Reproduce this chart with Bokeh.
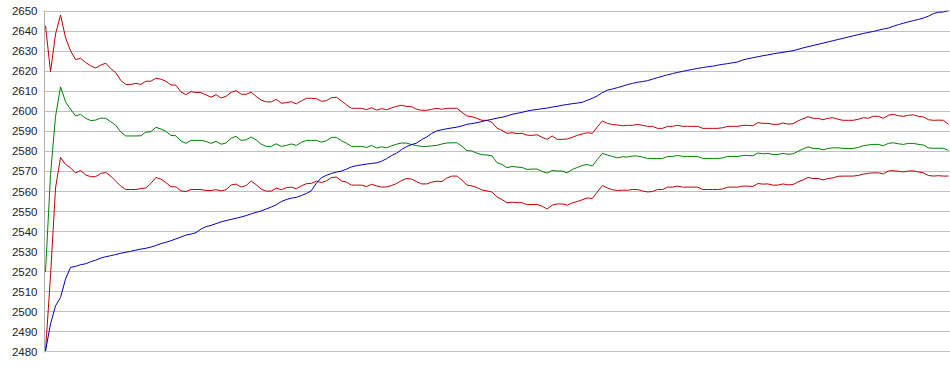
from bokeh.plotting import figure
from bokeh.models import Range1d, SingleIntervalTicker, ColumnDataSource
from bokeh.embed import file_html
from bokeh.resources import INLINE

# ---- data ----
upper = [2642.7, 2619.7, 2638.5, 2648.0, 2636.6, 2630.1, 2625.8, 2626.4, 2624.3, 2622.7,
         2621.6, 2623.0, 2624.0, 2621.3, 2619.3, 2615.4, 2613.4, 2613.4, 2613.9, 2613.4,
         2615.0, 2615.0, 2616.5, 2616.0, 2615.0, 2613.2, 2613.0, 2609.7, 2608.3, 2609.8,
         2609.4, 2609.3, 2608.2, 2607.0, 2608.3, 2606.6, 2607.5, 2609.4, 2610.3, 2608.5,
         2608.5, 2609.5, 2607.4, 2605.6, 2604.7, 2604.7, 2606.0, 2604.0, 2604.3, 2604.8,
         2603.7, 2605.2, 2606.5, 2606.5, 2606.3, 2605.0, 2605.3, 2606.8, 2607.0, 2605.2,
         2603.2, 2601.5, 2601.5, 2601.5, 2600.8, 2601.8, 2600.6, 2601.3, 2600.8, 2601.7,
         2602.5, 2603.0, 2602.4, 2602.3, 2601.0, 2600.5, 2600.5, 2601.0, 2601.5, 2601.0,
         2601.5, 2601.5, 2601.5, 2599.5, 2597.7, 2597.3, 2596.5, 2595.5, 2595.5, 2594.5,
         2591.6, 2590.5, 2589.0, 2589.3, 2588.9, 2589.0, 2588.1, 2588.0, 2588.3, 2587.0,
         2586.0, 2587.7, 2586.0, 2586.0, 2586.2, 2587.0, 2588.0, 2588.7, 2589.3, 2589.0,
         2592.2, 2595.2, 2594.0, 2593.4, 2593.2, 2592.8, 2593.0, 2593.0, 2593.5, 2593.0,
         2592.5, 2592.5, 2591.5, 2591.5, 2592.5, 2592.5, 2593.0, 2592.5, 2592.5, 2592.5,
         2592.5, 2591.5, 2591.5, 2591.5, 2591.5, 2591.8, 2592.5, 2592.5, 2592.5, 2593.0,
         2593.0, 2592.8, 2594.3, 2594.0, 2594.0, 2593.5, 2593.5, 2594.2, 2593.6, 2593.8,
         2595.2, 2596.3, 2597.3, 2596.5, 2596.5, 2595.8, 2596.5, 2596.8, 2596.0, 2595.5,
         2595.5, 2595.5, 2596.0, 2596.8, 2596.5, 2597.5, 2597.5, 2596.5, 2598.0, 2598.5,
         2597.8, 2597.5, 2598.0, 2598.2, 2597.5, 2597.2, 2595.8, 2595.5, 2595.6, 2595.5,
         2593.5]

middle = [2519.8, 2568.5, 2597.5, 2612.2, 2604.7, 2601.0, 2597.7, 2598.5, 2596.5, 2595.4,
          2595.6, 2596.6, 2596.5, 2594.8, 2593.0, 2589.7, 2587.7, 2587.7, 2587.7, 2587.8,
          2589.6, 2589.8, 2592.0, 2591.2, 2590.0, 2588.0, 2587.8, 2585.2, 2584.0, 2585.5,
          2585.5, 2585.5, 2585.0, 2584.0, 2585.0, 2583.6, 2584.2, 2586.6, 2587.5, 2585.5,
          2585.8, 2587.2, 2585.7, 2583.6, 2582.5, 2582.5, 2583.8, 2582.5, 2583.0, 2583.7,
          2583.0, 2584.5, 2585.5, 2585.5, 2585.5, 2584.6, 2585.3, 2587.0, 2587.0, 2585.3,
          2584.1, 2582.5, 2582.5, 2582.5, 2582.0, 2583.0, 2581.7, 2582.3, 2581.8, 2582.8,
          2583.6, 2584.2, 2584.1, 2583.4, 2582.9, 2582.5, 2582.5, 2582.8, 2583.0, 2583.7,
          2584.2, 2584.3, 2584.3, 2582.6, 2580.4, 2580.2, 2579.1, 2578.4, 2578.2, 2577.8,
          2574.4, 2573.5, 2571.9, 2572.5, 2572.2, 2572.0, 2571.0, 2571.2, 2571.2, 2570.0,
          2569.2, 2570.5, 2570.2, 2570.2, 2569.3, 2571.0, 2572.0, 2573.0, 2573.5, 2572.7,
          2576.0, 2579.0, 2578.2, 2577.5, 2576.8, 2577.3, 2577.2, 2577.7, 2577.7, 2577.2,
          2576.5, 2576.5, 2576.5, 2576.5, 2577.5, 2577.5, 2578.0, 2577.5, 2577.5, 2577.5,
          2577.5, 2576.5, 2576.5, 2576.5, 2576.5, 2576.8, 2577.5, 2577.5, 2577.5, 2578.0,
          2578.0, 2577.8, 2579.2, 2578.8, 2579.0, 2578.5, 2578.5, 2579.0, 2578.6, 2578.8,
          2580.0, 2581.2, 2582.3, 2581.5, 2581.5, 2580.8, 2581.5, 2581.8, 2581.8, 2581.5,
          2581.5, 2581.5, 2582.0, 2582.8, 2583.2, 2583.5, 2583.5, 2582.8, 2584.0, 2584.3,
          2583.8, 2583.5, 2584.0, 2584.0, 2583.5, 2583.2, 2581.8, 2581.5, 2581.6, 2581.5,
          2580.5]

lower = [2480.5, 2518.0, 2561.8, 2577.0, 2573.5, 2571.8, 2569.3, 2570.5, 2568.3, 2567.4,
         2567.4, 2569.0, 2569.5, 2567.7, 2565.2, 2562.7, 2561.0, 2561.0, 2561.0, 2561.5,
         2561.8, 2564.0, 2567.0, 2566.2, 2564.5, 2562.4, 2562.3, 2560.3, 2560.0, 2561.0,
         2561.0, 2561.0, 2560.5, 2560.5, 2560.9, 2560.3, 2560.9, 2563.3, 2563.7, 2562.2,
         2563.0, 2565.2, 2563.4, 2561.2, 2560.2, 2560.2, 2561.7, 2560.9, 2561.9, 2562.2,
         2561.4, 2562.8, 2563.9, 2564.1, 2565.2, 2564.5, 2565.3, 2567.0, 2567.2, 2565.3,
         2564.7, 2563.2, 2563.2, 2563.2, 2562.5, 2563.6, 2562.8, 2562.2, 2562.3, 2563.0,
         2564.0, 2565.5, 2566.5, 2566.2, 2564.9, 2563.8, 2563.8, 2564.7, 2565.1, 2565.0,
         2566.7, 2567.7, 2567.7, 2565.7, 2563.2, 2562.8, 2562.0, 2560.8, 2560.3, 2559.8,
         2557.3, 2556.0, 2554.4, 2554.7, 2554.4, 2554.4, 2553.5, 2553.5, 2553.6, 2552.7,
         2551.3, 2553.2, 2553.8, 2553.8, 2553.2, 2554.3, 2555.0, 2555.9, 2556.8, 2556.5,
         2559.8, 2563.0, 2561.8, 2560.9, 2560.5, 2560.7, 2560.6, 2561.0, 2561.0, 2560.3,
         2559.8, 2560.0, 2561.0, 2561.0, 2562.2, 2562.2, 2562.7, 2562.2, 2562.2, 2562.2,
         2562.2, 2561.0, 2561.0, 2561.0, 2561.0, 2561.3, 2562.2, 2562.2, 2562.2, 2562.7,
         2562.7, 2562.5, 2564.0, 2563.7, 2563.8, 2563.2, 2563.2, 2563.8, 2563.3, 2563.5,
         2564.8, 2565.8, 2567.0, 2566.5, 2566.5, 2565.8, 2566.5, 2566.8, 2567.6, 2567.7,
         2567.7, 2567.7, 2568.0, 2568.7, 2569.1, 2569.3, 2569.3, 2568.8, 2570.2, 2570.4,
         2570.1, 2569.8, 2570.2, 2570.3, 2569.8, 2569.3, 2568.0, 2567.7, 2567.9, 2567.7,
         2567.7]

trend = [2480.5, 2494.0, 2503.0, 2507.2, 2516.5, 2522.2, 2522.7, 2523.5, 2524.0, 2525.0,
         2525.8, 2526.8, 2527.5, 2528.0, 2528.6, 2529.2, 2529.7, 2530.2, 2530.8, 2531.3,
         2531.7, 2532.3, 2533.1, 2534.0, 2534.7, 2535.5, 2536.4, 2537.3, 2538.3, 2538.8,
         2539.5, 2541.3, 2542.5, 2543.1, 2544.0, 2544.9, 2545.5, 2546.1, 2546.7, 2547.3,
         2548.0, 2548.9, 2549.6, 2550.3, 2551.3, 2552.3, 2553.4, 2555.0, 2556.0, 2556.7,
         2557.1, 2558.0, 2559.0, 2560.4, 2564.2, 2566.9, 2568.1, 2569.0, 2569.7, 2570.2,
         2571.2, 2572.3, 2572.9, 2573.3, 2573.7, 2574.0, 2574.3, 2575.1, 2576.4, 2578.0,
         2579.1, 2581.0, 2582.4, 2583.4, 2584.2, 2585.9, 2587.2, 2589.0, 2590.2, 2590.8,
         2591.3, 2591.7, 2592.1, 2592.7, 2593.5, 2593.9, 2594.3, 2594.9, 2595.5, 2596.0,
         2596.6, 2597.0, 2597.7, 2598.5, 2599.0, 2599.5, 2600.1, 2600.6, 2600.9, 2601.3,
         2601.6, 2602.1, 2602.5, 2603.0, 2603.4, 2603.8, 2604.1, 2604.5, 2605.5, 2606.5,
         2607.7, 2609.3, 2610.5, 2611.1, 2611.8, 2612.5, 2613.3, 2613.9, 2614.5, 2614.8,
         2615.3, 2616.0, 2616.8, 2617.5, 2618.2, 2618.8, 2619.4, 2619.9, 2620.4, 2620.9,
         2621.4, 2621.8, 2622.2, 2622.5, 2623.0, 2623.4, 2623.8, 2624.2, 2624.6, 2625.6,
         2626.2, 2626.7, 2627.2, 2627.7, 2628.1, 2628.6, 2629.0, 2629.4, 2629.8, 2630.2,
         2630.9, 2631.6, 2632.2, 2632.8, 2633.4, 2634.0, 2634.6, 2635.2, 2635.8, 2636.4,
         2637.0, 2637.6, 2638.2, 2638.8, 2639.3, 2639.8, 2640.4, 2641.0, 2641.5, 2642.4,
         2643.2, 2643.9, 2644.6, 2645.2, 2645.8, 2646.5, 2647.4, 2648.7, 2649.4, 2649.5,
         2650.3]

x = list(range(len(trend)))

y_min, y_max, y_step = 2480, 2650, 10

src = ColumnDataSource(dict(x=x, upper=upper, middle=middle, lower=lower, trend=trend))

p = figure(width=950, height=375, output_backend="svg", toolbar_location=None,
           x_axis_location=None,
           x_range=Range1d(-0.2, len(trend) - 1 + 0.4),
           y_range=Range1d(y_min - 0.25, y_max + 0.25),
           min_border_left=44, min_border_right=0, min_border_top=10, min_border_bottom=23)
p.outline_line_color = None
p.background_fill_color = "white"
p.border_fill_color = "white"
p.xgrid.grid_line_color = None
p.xgrid.visible = False

ticker = SingleIntervalTicker(interval=y_step)
p.yaxis.ticker = ticker
p.ygrid.ticker = ticker
p.ygrid.grid_line_color = "#c0c0c0"
p.ygrid.grid_line_width = 1
p.yaxis.axis_line_color = "#b0b0b0"
p.yaxis.major_tick_out = 0
p.yaxis.major_tick_in = 0
p.yaxis.minor_tick_out = 0
p.yaxis.minor_tick_in = 0
p.yaxis.major_label_standoff = 7
p.yaxis.major_label_text_font = "Liberation Sans"
p.yaxis.major_label_text_font_size = "11.5px"
p.yaxis.major_label_text_color = "#222222"

p.line("x", "upper", source=src, line_color="#c00000", line_width=1)
p.line("x", "middle", source=src, line_color="#008000", line_width=1)
p.line("x", "lower", source=src, line_color="#c00000", line_width=1)
p.line("x", "trend", source=src, line_color="#0000c0", line_width=1)

open("out.html", "w").write(file_html(p, INLINE))
